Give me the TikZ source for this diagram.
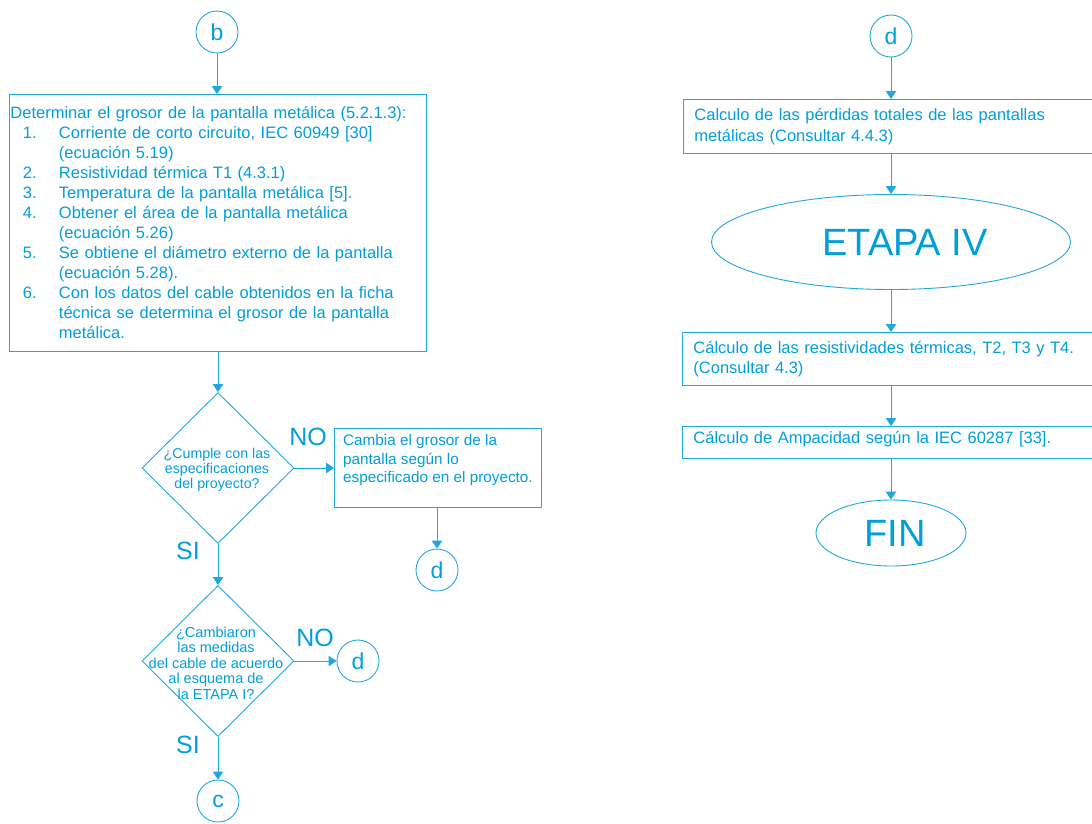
\documentclass[tikz,border=0pt]{standalone}
\usepackage{fontspec}
\setmainfont{Liberation Sans}
\usetikzlibrary{shapes.geometric,arrows.meta}
\definecolor{lc}{RGB}{30,168,224}
\definecolor{tc}{RGB}{0,158,219}
\begin{document}
\begin{tikzpicture}[x=1pt,y=-1pt,
  line width=0.9pt,
  every node/.style={text=tc},
  arr/.style={draw=lc,-{Triangle[width=10.5pt,length=8pt]}},
  circ/.style={circle,draw=lc,minimum size=42pt,inner sep=0pt,font=\fontsize{23}{25}\selectfont},
  box/.style={rectangle,draw=lc,align=left,font=\fontsize{16.5}{20}\selectfont},
  dia/.style={diamond,draw=lc,aspect=1,minimum width=152pt,minimum height=151pt,inner sep=0pt},
  dtext/.style={align=center,font=\fontsize{14.2}{14.8}\selectfont},
  big/.style={font=\fontsize{25}{28}\selectfont},
  oval/.style={ellipse,draw=lc,inner sep=0pt,font=\fontsize{38}{40}\selectfont}
]
\useasboundingbox (0,0) rectangle (1092,823);
\clip (0,0) rectangle (1092,823);

% left column
\node[circ] (b) at (217,32) {b};
\node[box, anchor=north west, minimum width=417pt, minimum height=257pt, text width=415pt, inner xsep=1pt, inner ysep=0pt] (det) at (9,94) {%
Determinar el grosor de la pantalla metálica (5.2.1.3):\\
\makebox[48.5pt][l]{\hspace{12.5pt}1.}Corriente de corto circuito, IEC 60949 [30]\\
\hspace*{48.5pt}(ecuación 5.19)\\
\makebox[48.5pt][l]{\hspace{12.5pt}2.}Resistividad térmica T1 (4.3.1)\\
\makebox[48.5pt][l]{\hspace{12.5pt}3.}Temperatura de la pantalla metálica [5].\\
\makebox[48.5pt][l]{\hspace{12.5pt}4.}Obtener el área de la pantalla metálica\\
\hspace*{48.5pt}(ecuación 5.26)\\
\makebox[48.5pt][l]{\hspace{12.5pt}5.}Se obtiene el diámetro externo de la pantalla\\
\hspace*{48.5pt}(ecuación 5.28).\\
\makebox[48.5pt][l]{\hspace{12.5pt}6.}Con los datos del cable obtenidos en la ficha\\
\hspace*{48.5pt}técnica se determina el grosor de la pantalla\\
\hspace*{48.5pt}metálica.};
\draw[arr] (b.south) -- (b.south |- det.north);

\node[dia] (q1) at (218,468) {};
\node[dtext] (q1t) at (217,470) {¿Cumple con las\\especificaciones\\del proyecto?};
\draw[arr] (det.south -| q1.north) -- (q1.north);

\node[big] (no1) at (308,437) {NO};
\node[box, anchor=north west, minimum width=207pt, minimum height=79pt, inner xsep=0pt, inner ysep=0pt, font=\fontsize{15.3}{18.5}\selectfont] (cam) at (334,428) {Cambia el grosor de la\\pantalla según lo\\especificado en el proyecto.\\\mbox{}};
\draw[arr] (q1.east) -- (cam.west |- q1.east);
\node[circ] (d1) at (437,570) {d};
\draw[arr] (cam.south -| d1) -- (d1.north);

\node[big] (si1) at (188,551) {SI};
\node[dia] (q2) at (218,661) {};
\node[dtext, font=\fontsize{14.5}{15.5}\selectfont] (q2t) at (216,663) {¿Cambiaron\\las medidas\\del cable de acuerdo\\al esquema de\\la ETAPA I?};
\draw[arr] (q1.south) -- (q2.north);
\node[big] (no2) at (315,638) {NO};
\node[circ] (d2) at (358,661) {d};
\draw[arr] (q2.east) -- (d2.west);
\node[big] (si2) at (188,745) {SI};
\node[circ] (c) at (218,801) {c};
\draw[arr] (q2.south) -- (c.north);

% right column
\node[circ] (d3) at (891,36) {d};
\node[box, anchor=north west, minimum width=440pt, minimum height=54pt, text width=418pt, inner xsep=11pt, inner ysep=0pt, font=\fontsize{16.5}{21}\selectfont] (r1) at (683,99) {Calculo de las pérdidas totales de las pantallas\\metálicas (Consultar 4.4.3)};
\draw[arr] (d3.south) -- (d3.south |- r1.north);
\node[oval, minimum width=359pt, minimum height=95pt] (et) at (891,242) {\hspace*{28pt}ETAPA IV};
\draw[arr] (r1.south -| d3) -- (et.north);
\node[box, anchor=north west, minimum width=440pt, minimum height=53pt, text width=418pt, inner xsep=11pt, inner ysep=0pt] (r2) at (682,332) {Cálculo de las resistividades térmicas, T2, T3 y T4.\\(Consultar 4.3)};
\draw[arr] (et.south) -- (et.south |- r2.north);
\node[box, anchor=north west, minimum width=440pt, minimum height=32pt, text width=418pt, inner xsep=11pt, inner ysep=0pt, text height=10pt, text depth=7pt] (r3) at (682,426) {Cálculo de Ampacidad según la IEC 60287 [33].};
\draw[arr] (r2.south -| et) -- (r3.north -| et);
\node[oval, minimum width=150pt, minimum height=66pt] (fin) at (891,533) {\hspace*{8pt}FIN};
\draw[arr] (r3.south -| et) -- (fin.north);
\end{tikzpicture}
\end{document}
